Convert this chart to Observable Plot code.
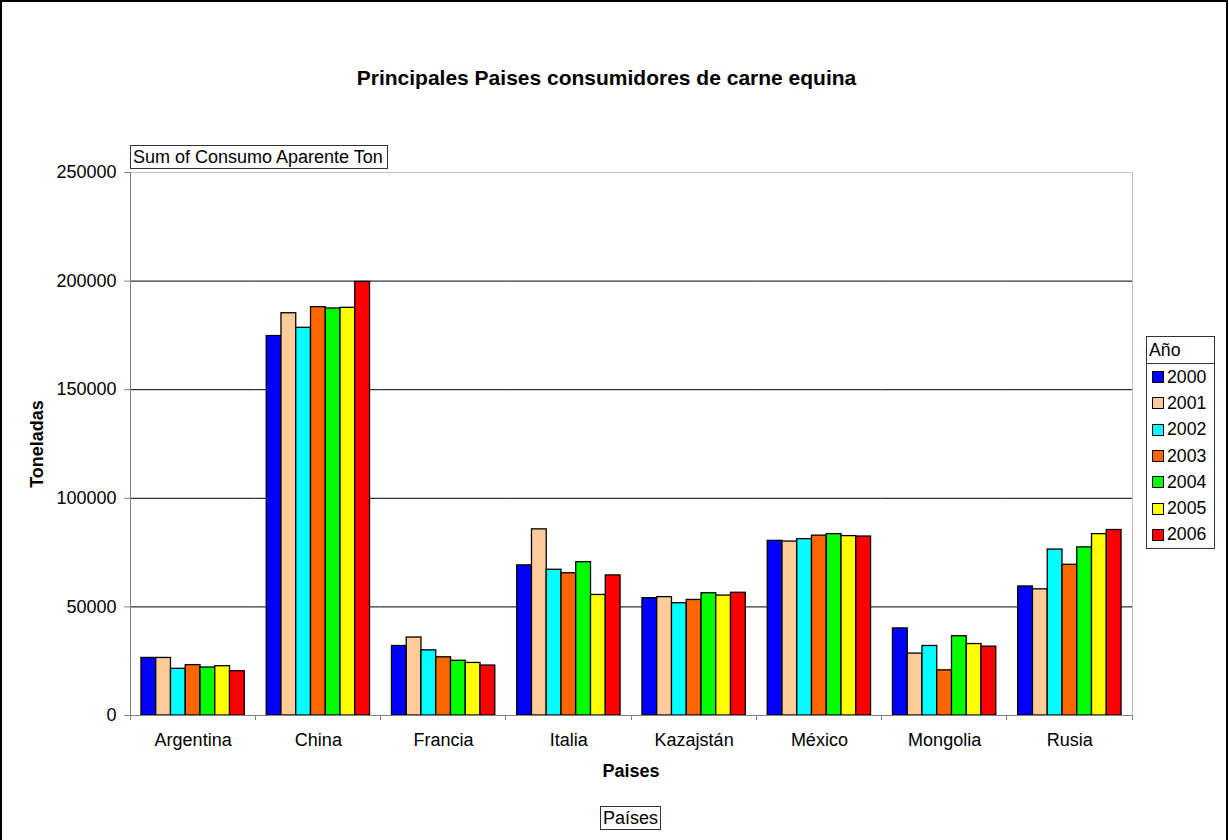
<!DOCTYPE html>
<html>
<head>
<meta charset="utf-8">
<script src="https://cdn.jsdelivr.net/npm/d3@7"></script>
<script src="https://cdn.jsdelivr.net/npm/@observablehq/plot@0.6"></script>
<style>
  html, body { margin: 0; padding: 0; background: #fff; }
  body { width: 1229px; height: 840px; position: relative; overflow: hidden;
         font-family: "Liberation Sans", Arial, sans-serif; color: #000; }
  #frame { position: absolute; left: 0; top: 0; width: 1228px; height: 845px; box-sizing: border-box;
           border-top: 2px solid #000; border-left: 2px solid #000; border-right: 2px solid #000; }
  #chart { position: absolute; left: 0; top: 0; }
  .abs { position: absolute; white-space: nowrap; }
  #title { left: 0; width: 1213px; top: 66px; text-align: center; font-weight: bold; font-size: 21px; line-height: 24px; }
  #sumbox { left: 130px; top: 145px; width: 258px; height: 24px; box-sizing: border-box; border: 1px solid #333;
            font-size: 18px; line-height: 22px; padding-left: 2px; background: #fff; }
  #ytitle { left: 37px; top: 444px; font-weight: bold; font-size: 18px; line-height: 20px;
            transform: translate(-50%, -50%) rotate(-90deg); }
  #xtitle { left: 631px; top: 761px; transform: translateX(-50%); font-weight: bold; font-size: 18px; line-height: 20px; }
  #paisbox { left: 600px; top: 806px; width: 61px; height: 24px; box-sizing: border-box; border: 1px solid #333;
             font-size: 18px; line-height: 22px; text-align: center; background: #fff; }
  #legend { left: 1146px; top: 336px; width: 69px; height: 213px; box-sizing: border-box; border: 1px solid #333; background: #fff; }
  #legend .head { height: 27px; box-sizing: border-box; border-bottom: 1px solid #333; font-size: 17.7px; line-height: 27px; padding-left: 2px; }
  #legend .row { height: 26.3px; display: flex; align-items: center; font-size: 17.7px; }
  #legend .sw { width: 10px; height: 10px; border: 1px solid #000; margin-left: 5px; margin-right: 3px; }
</style>
</head>
<body>
<div id="frame"></div>
<div id="chart"></div>
<div id="title" class="abs">Principales Paises consumidores de carne equina</div>
<div id="sumbox" class="abs">Sum of Consumo Aparente Ton</div>
<div id="ytitle" class="abs">Toneladas</div>
<div id="xtitle" class="abs">Paises</div>
<div id="paisbox" class="abs">Países</div>
<div id="legend" class="abs"></div>
<script>
const countries = ["Argentina", "China", "Francia", "Italia", "Kazajstán", "México", "Mongolia", "Rusia"];
const years = ["2000", "2001", "2002", "2003", "2004", "2005", "2006"];
const colors = ["#0000FF", "#FFCC99", "#00FFFF", "#FF6600", "#00FF00", "#FFFF00", "#FF0000"];
const v2000 = [26500, 174700, 32000, 69100, 54000, 80400, 40100, 59400];
const v2001 = [26500, 185200, 35900, 85700, 54500, 80100, 28500, 58100];
const v2002 = [21500, 178500, 30000, 67100, 51700, 81200, 32000, 76400];
const v2003 = [23200, 188000, 26800, 65500, 53200, 82800, 20800, 69400];
const v2004 = [22100, 187400, 25200, 70600, 56300, 83500, 36500, 77400];
const v2005 = [22700, 187700, 24200, 55500, 55200, 82600, 32900, 83500];
const v2006 = [20400, 199600, 23000, 64500, 56500, 82400, 31700, 85400];
const yTicks = [0, 50000, 100000, 150000, 200000, 250000];
const gridValues = [50000, 100000, 150000, 200000];

const series = [v2000, v2001, v2002, v2003, v2004, v2005, v2006];
const data = [];
years.forEach((yr, i) => countries.forEach((c, j) => data.push({country: c, year: yr, value: series[i][j]})));

const chart = Plot.plot({
  width: 1229,
  height: 840,
  marginTop: 172,
  marginBottom: 125,
  marginLeft: 130,
  marginRight: 97,
  style: {fontFamily: "'Liberation Sans', Arial, sans-serif", fontSize: "18px", color: "#000", background: "transparent", overflow: "visible"},
  fx: {domain: countries, padding: 0, round: false, label: null, axis: null},
  x: {domain: years, paddingInner: 0, paddingOuter: 0.743, round: false, axis: null},
  y: {domain: [0, 250000], label: null},
  color: {domain: years, range: colors},
  marks: [
    Plot.ruleY(gridValues, {stroke: "#000", strokeWidth: 1}),
    Plot.barY(data, {fx: "country", x: "year", y: "value", fill: "year", stroke: "#000", strokeWidth: 1.3}),
    Plot.axisY({ticks: yTicks, tickSize: 6, tickPadding: 8, tickFormat: d => String(d), stroke: "#808080", fontSize: 18, label: null}),
    Plot.axisFx({anchor: "bottom", tickSize: 0, tickPadding: 18, fontSize: 18, label: null})
  ]
});
document.getElementById("chart").appendChild(chart);

// frame lines and category boundary ticks using the library's scales
const fx = chart.scale("fx");
const y = chart.scale("y");
const x0 = fx.range[0], x1 = fx.range[1];
const yb = y.apply(0), yt = y.apply(250000);
const g = d3.select(chart).append("g").attr("shape-rendering", "crispEdges");
g.append("line").attr("x1", x0).attr("x2", x1).attr("y1", yt).attr("y2", yt).attr("stroke", "#c0c0c0");
g.append("line").attr("x1", x1).attr("x2", x1).attr("y1", yt).attr("y2", yb).attr("stroke", "#c0c0c0");
g.append("line").attr("x1", x0).attr("x2", x0).attr("y1", yt).attr("y2", yb).attr("stroke", "#808080");
g.append("line").attr("x1", x0).attr("x2", x1).attr("y1", yb).attr("y2", yb).attr("stroke", "#808080");
const edges = countries.map(c => fx.apply(c)).concat([x1]);
edges.forEach(e => g.append("line").attr("x1", e).attr("x2", e).attr("y1", yb).attr("y2", yb + 5).attr("stroke", "#808080"));

// legend
const leg = document.getElementById("legend");
const head = document.createElement("div");
head.className = "head";
head.textContent = "Año";
leg.appendChild(head);
years.forEach((yr, i) => {
  const row = document.createElement("div");
  row.className = "row";
  const sw = document.createElement("div");
  sw.className = "sw";
  sw.style.background = colors[i];
  const t = document.createElement("span");
  t.textContent = yr;
  row.appendChild(sw);
  row.appendChild(t);
  leg.appendChild(row);
});
</script>
</body>
</html>
